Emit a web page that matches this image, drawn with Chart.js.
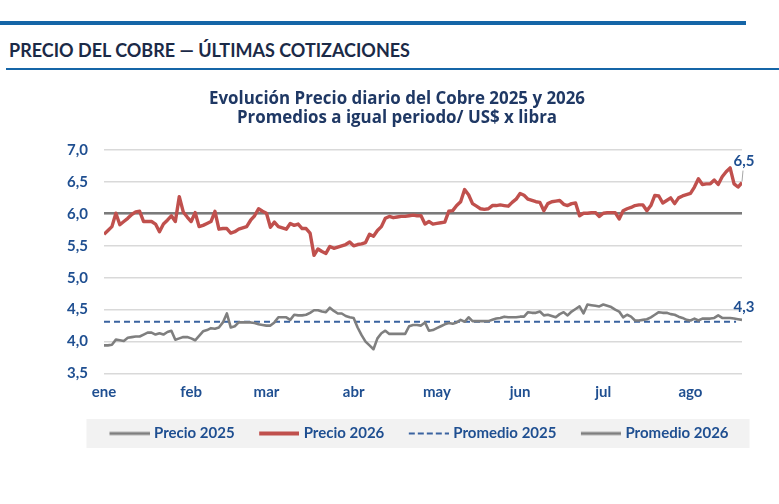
<!DOCTYPE html>
<html><head><meta charset="utf-8">
<script src="https://cdn.jsdelivr.net/npm/chart.js@4.4.1/dist/chart.umd.min.js"></script>
<style>
html,body{margin:0;padding:0;background:#fff;width:779px;height:504px;overflow:hidden;font-family:Lato,"Open Sans",sans-serif;}
#topbar{position:absolute;left:0;top:21px;width:746px;height:4px;background:#1565a7;}
#head{position:absolute;left:9px;top:40px;font-weight:bold;font-size:18px;line-height:20px;color:#1b2a47;white-space:nowrap;}
#rule{position:absolute;left:6px;top:68px;width:773px;height:2px;background:#1565a7;}
#wrap{position:absolute;left:0;top:80px;width:779px;height:424px;}
</style></head><body>
<div id="topbar"></div>
<div id="head">PRECIO DEL COBRE — ÚLTIMAS COTIZACIONES</div>
<div id="rule"></div>
<div id="wrap"><canvas id="c" width="779" height="424"></canvas></div>
<script>
const months = ['ene','feb','mar','abr','may','jun','jul','ago'];
const monthStart = [0,22,41,63,84,105,126,148];
const yTicks = [3.5,4.0,4.5,5.0,5.5,6.0,6.5,7.0];
const titleLines = ['Evolución Precio diario del Cobre 2025 y 2026','Promedios a igual periodo/ US$ x libra'];
const seriesNames = ['Precio 2025','Precio 2026','Promedio 2025','Promedio 2026'];

const precio2025 = [
3.94,3.94,3.95,4.03,4.02,4.01,4.06,4.07,4.08,4.08,
4.11,4.14,4.14,4.11,4.13,4.11,4.15,4.17,4.03,4.05,
4.07,4.07,4.05,4.02,4.09,4.16,4.18,4.21,4.20,4.22,
4.30,4.44,4.22,4.24,4.30,4.30,4.30,4.30,4.29,4.27,
4.26,4.25,4.25,4.30,4.38,4.38,4.38,4.34,4.42,4.41,
4.41,4.42,4.45,4.49,4.49,4.47,4.46,4.53,4.48,4.44,
4.44,4.40,4.38,4.37,4.22,4.10,4.00,3.94,3.88,4.05,
4.13,4.17,4.12,4.12,4.12,4.12,4.12,4.24,4.26,4.26,
4.25,4.30,4.17,4.18,4.21,4.24,4.27,4.29,4.28,4.30,
4.34,4.31,4.38,4.32,4.32,4.32,4.32,4.32,4.34,4.36,
4.37,4.39,4.38,4.38,4.38,4.39,4.39,4.46,4.45,4.45,
4.47,4.41,4.42,4.40,4.38,4.43,4.46,4.41,4.47,4.51,
4.55,4.44,4.58,4.57,4.56,4.55,4.58,4.56,4.54,4.50,
4.47,4.38,4.42,4.39,4.33,4.33,4.34,4.35,4.38,4.42,
4.46,4.45,4.45,4.43,4.42,4.39,4.37,4.34,4.33,4.36,
4.33,4.36,4.36,4.36,4.37,4.41,4.37,4.37,4.37,4.36,
4.35,4.34];

const precio2026 = [
5.68,5.74,5.80,6.01,5.83,5.88,5.93,5.99,6.03,6.04,
5.88,5.88,5.88,5.84,5.72,5.84,5.90,5.97,5.88,6.27,
6.03,5.95,5.88,6.02,5.80,5.82,5.85,5.88,6.04,5.76,
5.77,5.77,5.70,5.72,5.76,5.78,5.80,5.90,5.97,6.08,
6.04,6.01,5.79,5.87,5.80,5.78,5.76,5.85,5.82,5.84,
5.77,5.77,5.70,5.35,5.45,5.41,5.38,5.49,5.46,5.48,
5.50,5.52,5.56,5.50,5.52,5.53,5.55,5.68,5.65,5.74,
5.80,5.93,5.96,5.94,5.95,5.96,5.96,5.97,5.98,5.97,
5.97,5.84,5.88,5.84,5.85,5.86,5.87,6.04,6.05,6.13,
6.19,6.38,6.30,6.16,6.12,6.08,6.07,6.08,6.13,6.13,
6.14,6.13,6.12,6.18,6.23,6.32,6.29,6.23,6.21,6.19,
6.18,6.05,6.16,6.19,6.20,6.21,6.15,6.13,6.16,6.17,
5.97,6.01,6.01,6.02,6.02,5.96,6.01,6.02,6.02,6.02,
5.92,6.05,6.08,6.10,6.13,6.14,6.14,6.05,6.13,6.29,
6.28,6.17,6.21,6.25,6.16,6.25,6.28,6.30,6.32,6.42,
6.55,6.46,6.47,6.47,6.53,6.46,6.58,6.66,6.72,6.47,
6.42,6.49];

const promedio2025 = 4.31;
const promedio2026 = 6.01;

const idx = precio2026.map((_, i) => i);
const lastI = idx.length - 1;
const fmt = v => v.toFixed(1).replace('.', ',');

const tickColor = '#1f4f91';
const FONT = 'Lato, "Open Sans", sans-serif';
const TFONT = '"Open Sans", Lato, sans-serif';

// legend sample images (line swatches)
function swatch(color, width, dash) {
  const c = document.createElement('canvas');
  c.width = 46; c.height = 8;
  const g = c.getContext('2d');
  g.strokeStyle = color;
  g.lineWidth = width;
  g.setLineDash(dash || []);
  g.beginPath();
  g.moveTo(6, 4); g.lineTo(46, 4);
  g.stroke();
  return c;
}

// nudges the title / legend blocks horizontally after layout
const blockShift = {
  id: 'blockShift',
  afterLayout(chart) {
    const ca = chart.chartArea;
    const lg = chart.legend;
    if (lg) {
      lg.left = ca.left - 19;
      lg.right = chart.width;
      lg.width = lg.right - lg.left;
    }
    if (chart.titleBlock) { chart.titleBlock.left += 4; chart.titleBlock.right += 4; }
  }
};

const legendBg = {
  id: 'legendBg',
  beforeDraw(chart) {
    const lg = chart.legend;
    if (!lg || !lg.legendHitBoxes || !lg.legendHitBoxes.length) return;
    const hb = lg.legendHitBoxes;
    const l = hb[0].left - 20;
    const last = hb[hb.length - 1];
    const r = last.left + last.width + 21;
    const cy = hb[0].top + hb[0].height / 2;
    const ctx = chart.ctx;
    ctx.save();
    ctx.fillStyle = '#f2f2f2';
    ctx.fillRect(l, cy - 14.5, r - l, 29);
    ctx.restore();
  }
};

const endLabels = {
  id: 'endLabels',
  afterDatasetsDraw(chart) {
    const {ctx, scales: {x, y}} = chart;
    ctx.save();
    ctx.font = 'bold 15px ' + FONT;
    ctx.fillStyle = tickColor;
    ctx.textAlign = 'center';
    ctx.textBaseline = 'middle';
    const v26 = precio2026[lastI];
    const px = x.getPixelForValue(lastI), py = y.getPixelForValue(v26);
    ctx.strokeStyle = '#a6a6a6';
    ctx.lineWidth = 1;
    ctx.beginPath();
    ctx.moveTo(px, py - 1);
    ctx.lineTo(px + 1, py - 12);
    ctx.stroke();
    ctx.fillText(fmt(v26), px + 2, py - 21);
    const v25 = precio2025[lastI];
    const qy = y.getPixelForValue(v25);
    ctx.fillText(fmt(v25), px + 2, qy - 13);
    ctx.restore();
  }
};

new Chart(document.getElementById('c'), {
  type: 'line',
  data: {
    labels: idx,
    datasets: [
      { label: seriesNames[0], data: precio2025, borderColor: '#7f7f7f', backgroundColor: '#7f7f7f', borderWidth: 2.6, pointRadius: 0, tension: 0, borderJoinStyle: 'round', pointStyle: swatch('#7f7f7f', 3) },
      { label: seriesNames[1], data: precio2026, borderColor: '#c0504d', backgroundColor: '#c0504d', borderWidth: 3.4, pointRadius: 0, tension: 0, borderJoinStyle: 'round', pointStyle: swatch('#c0504d', 4) },
      { label: seriesNames[2], data: [{x: 0, y: promedio2025}, {x: lastI - 1.5, y: promedio2025}], borderColor: '#3a63a0', backgroundColor: '#3a63a0', borderWidth: 2, borderDash: [6, 4], pointRadius: 0, pointStyle: swatch('#3a63a0', 2, [6, 3]) },
      { label: seriesNames[3], data: [{x: 0, y: promedio2026}, {x: lastI, y: promedio2026}], borderColor: '#7a7a7a', backgroundColor: '#7a7a7a', borderWidth: 2.4, pointRadius: 0, pointStyle: swatch('#7f7f7f', 3) }
    ]
  },
  options: {
    responsive: false,
    animation: false,
    devicePixelRatio: 1,
    layout: { padding: { left: 44, right: 37, top: 0, bottom: 53 } },
    plugins: {
      title: {
        display: true,
        text: titleLines,
        color: '#1f3864',
        font: { family: TFONT, size: 16.9, weight: 'bold', lineHeight: 19 / 16.9 },
        padding: { top: 10, bottom: 22 }
      },
      legend: {
        position: 'bottom',
        align: 'start',
        fullSize: true,
        labels: {
          usePointStyle: true,
          pointStyleWidth: 40,
          boxHeight: 13,
          padding: 21.5,
          color: tickColor,
          font: { family: FONT, size: 15, weight: 'bold' }
        }
      },
      tooltip: { enabled: false }
    },
    scales: {
      x: {
        type: 'linear',
        min: 0,
        max: lastI,
        grid: { display: false, drawTicks: false },
        border: { display: false },
        afterBuildTicks: s => { s.ticks = monthStart.map(v => ({ value: v })); },
        afterFit: s => { s.height = 31; },
        ticks: {
          autoSkip: false,
          maxRotation: 0,
          padding: 10,
          color: tickColor,
          font: { family: FONT, size: 15, weight: 'bold' },
          callback: v => months[monthStart.indexOf(v)]
        }
      },
      y: {
        min: yTicks[0],
        max: yTicks[yTicks.length - 1],
        afterBuildTicks: s => { s.ticks = yTicks.map(v => ({ value: v })); },
        afterFit: s => { s.width = 60; },
        grid: { color: '#d9d9d9', lineWidth: 1.5, drawTicks: false },
        border: { display: false },
        ticks: {
          padding: 16,
          color: tickColor,
          font: { family: FONT, size: 15, weight: 'bold' },
          callback: v => fmt(v)
        }
      }
    }
  },
  plugins: [blockShift, legendBg, endLabels]
});
</script>
</body></html>
